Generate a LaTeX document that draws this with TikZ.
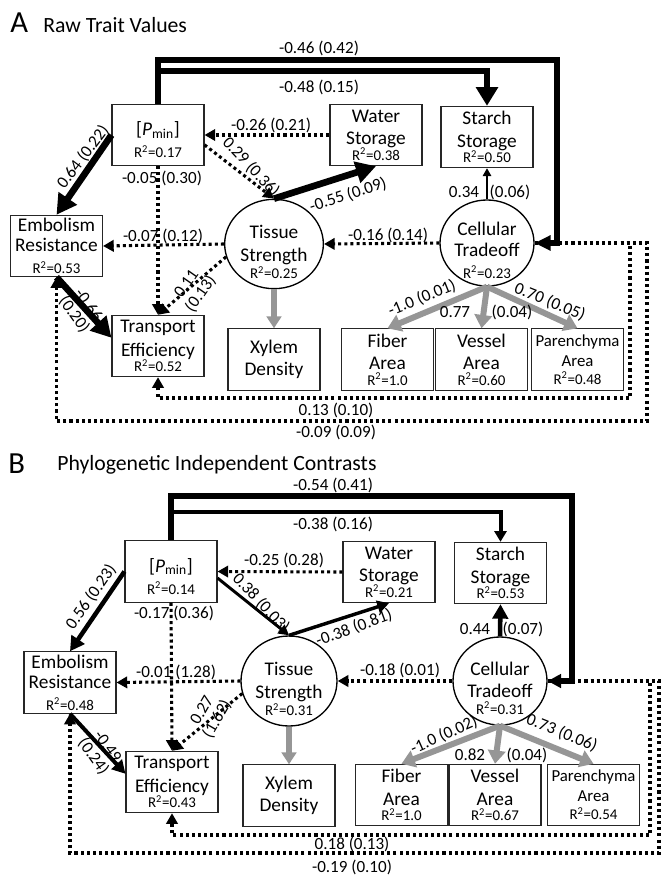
\documentclass[tikz,border=0pt]{standalone}
\usepackage{fontspec}
\setmainfont{Carlito}
\usetikzlibrary{arrows.meta, shapes.geometric}

\definecolor{loadgray}{RGB}{150,150,150}
\newcommand{\rsq}[1]{{\fontsize{11.2}{12}\selectfont R\textsuperscript{2}=#1}}

\tikzset{
  obsbox/.style={draw=black!85, line width=0.8pt, rectangle, minimum width=69pt, minimum height=46pt, inner sep=0pt, text width=66pt, align=center, font=\fontsize{14.5}{17}\selectfont},
  latent/.style={draw, ellipse, line width=1pt, minimum width=72pt, minimum height=66pt, inner sep=0pt},
  lattext/.style={text width=70pt, align=center, inner sep=0pt, font=\fontsize{14.5}{17}\selectfont},
  coef/.style={line width=#1, -{Triangle[length=2pt 2.6, width=2pt 2.8]}},
  nonsig/.style={line width=2.3pt, dash pattern=on 2.3pt off 2.3pt, -{Triangle[length=8pt,width=8.5pt]}},
  loading/.style={draw=loadgray, line width=4pt, -{Triangle[length=9pt,width=11pt]}},
  estlabel/.style={font=\fontsize{12.8}{13}\selectfont, inner sep=0.75pt, align=center},
}

\begin{document}
\begin{tikzpicture}[x=0.75pt,y=0.75pt,yscale=-1,xscale=1]
\useasboundingbox (0,0) rectangle (663,880);

%%%%%%%%%%%%%%%% Panel A
% Text Node
\node[anchor=base west, inner sep=0pt, font=\fontsize{23}{23}\selectfont] (panA) at (10,33) {A};
% Text Node
\node[anchor=base west, inner sep=0pt, font=\fontsize{16.3}{18}\selectfont] (titA) at (43,33) {Raw Trait Values};

%Shape: Rectangle
\node[obsbox] (pminA) at (158,135) {\rule{0pt}{17.5pt}[\textit{P}\textsubscript{min}]\\[-0.5pt]\rsq{0.17}};
\node[obsbox] (waterA) at (376,135) {Water\\Storage\\[-5.7pt]\rsq{0.38}};
\node[obsbox] (starchA) at (487,137) {Starch\\Storage\\[-5.7pt]\rsq{0.50}};
\node[obsbox] (embA) at (56.5,246) {Embolism\\[-2pt]Resistance\\[-0.5pt]\rsq{0.53}};
\node[obsbox] (transA) at (158,346) {Transport\\[1pt]Efficiency\\[-5.7pt]\rsq{0.52}};
\node[obsbox] (xylA) at (274,359.5) {Xylem\\Density};
\node[obsbox] (fibA) at (387.5,359.5) {Fiber\\Area\\[-5.7pt]\rsq{1.0}};
\node[obsbox] (vesA) at (481.5,359.5) {Vessel\\Area\\[-5.7pt]\rsq{0.60}};
\node[obsbox, font=\fontsize{12.6}{15}\selectfont] (parA) at (577.5,359.5) {Parenchyma\\Area\\[-1.5pt]\rsq{0.48}};

%Shape: Ellipse
\node[latent, minimum width=74pt, minimum height=67pt] (tisA) at (274,244) {};
\node[lattext] (tisAt) at (274,252) {Tissue\\Strength\\[-4.3pt]\rsq{0.25}};
\node[latent, minimum width=70.5pt, minimum height=64.5pt] (cellA) at (487,243) {};
\node[lattext] (cellAt) at (487,250) {Cellular\\[-0.7pt]Tradeoff\\[-1pt]\rsq{0.23}};

%Straight Lines
\draw[nonsig] (cellA.east) -| (630,398) -| (transA.south);
\draw[nonsig] (cellA.east) -| (647,421) -| (embA.south);
\draw[coef=4pt, -{Triangle[length=12pt,width=11pt]}] (pminA.north) |- (557,60) |- (cellA.east);
\draw[coef=4pt, -{Triangle[length=14pt,width=16pt]}] (pminA.north) |- (starchA.north |- 0,71) -- (starchA.north);
\draw[coef=5pt] (pminA.west) -- (embA.north);
\draw[nonsig] (waterA.west) -- (pminA.east);
\draw[nonsig] (pminA.-12) -- (tisA.north);
\draw[coef=5pt] (tisA.north) -- (waterA.south);
\draw[nonsig] (tisA.west) -- (embA.east);
\draw[nonsig] (tisA.195) -- (transA.north);
\draw[nonsig] (pminA.south) -- (transA.north);
\draw[coef=5pt] (embA.south) -- (transA.170);
\draw[loading] (tisA.south) -- (xylA.north);
\draw[nonsig] (cellA.west) -- (tisA.east);
\draw[coef=1.5pt] (cellA.north) -- (starchA.south);
\draw[loading, line width=4.5pt, -{Triangle[length=10pt,width=13pt]}] (cellA.south) -- (fibA.north);
\draw[loading, line width=4.5pt, -{Triangle[length=10pt,width=13pt]}] (cellA.south) -- (vesA.north);
\draw[loading, line width=4.5pt, -{Triangle[length=10pt,width=13pt]}] (cellA.south) -- (parA.north);

% Text Node
\node[estlabel] (lA1) at (319,48) {-0.46 (0.42)};
\node[estlabel] (lA2) at (319,87) {-0.48 (0.15)};
\node[estlabel, rotate=53] (lA3) at (83,157) {0.64 (0.22)};
\node[estlabel] (lA4) at (271,125) {-0.26 (0.21)};
\node[estlabel, rotate=-47] (lA5) at (251,167) {0.29 (0.36)};
\node[estlabel, rotate=18] (lA6) at (348,195) {-0.55 (0.09)};
\node[estlabel] (lA7) at (162,178) {-0.05 (0.30)};
\node[estlabel] (lA8) at (163,236) {-0.07 (0.12)};
\node[estlabel, rotate=55] (lA9) at (194,289) {0.11\\(0.13)};
\node[estlabel, rotate=-55] (lA10) at (81,310) {-0.66\\(0.20)};
\node[estlabel] (lA11) at (388,235) {-0.16 (0.14)};
\node[estlabel] (lA12) at (464,192) {0.34};
\node[estlabel] (lA13) at (510,192) {(0.06)};
\node[estlabel, rotate=22] (lA14) at (422,298) {-1.0 (0.01)};
\node[estlabel] (lA15) at (455,312) {0.77};
\node[estlabel] (lA16) at (512,312) {(0.04)};
\node[estlabel, rotate=-22] (lA17) at (550,302) {0.70 (0.05)};
\node[estlabel] (lA18) at (336,410) {0.13 (0.10)};
\node[estlabel] (lA19) at (336,432) {-0.09 (0.09)};

%%%%%%%%%%%%%%%% Panel B
% Text Node
\node[anchor=base west, inner sep=0pt, font=\fontsize{23}{23}\selectfont] (panB) at (8,473) {B};
% Text Node
\node[anchor=base west, inner sep=0pt, font=\fontsize{16.3}{18}\selectfont] (titB) at (57,470) {Phylogenetic Independent Contrasts};

%Shape: Rectangle
\node[obsbox] (pminB) at (171,571.5) {\rule{0pt}{17.5pt}[\textit{P}\textsubscript{min}]\\[-0.5pt]\rsq{0.14}};
\node[obsbox] (waterB) at (389,572) {Water\\Storage\\[-5.7pt]\rsq{0.21}};
\node[obsbox] (starchB) at (500.5,573) {Starch\\Storage\\[-5.7pt]\rsq{0.53}};
\node[obsbox] (embB) at (70,682.5) {Embolism\\[-2pt]Resistance\\[-0.5pt]\rsq{0.48}};
\node[obsbox] (transB) at (172,782) {Transport\\[1pt]Efficiency\\[-5.7pt]\rsq{0.43}};
\node[obsbox] (xylB) at (289,795.5) {Xylem\\Density};
\node[obsbox] (fibB) at (401.5,795) {Fiber\\Area\\[-5.7pt]\rsq{1.0}};
\node[obsbox] (vesB) at (495,795) {Vessel\\Area\\[-5.7pt]\rsq{0.67}};
\node[obsbox, font=\fontsize{12.6}{15}\selectfont] (parB) at (593.5,795) {Parenchyma\\Area\\[-1.5pt]\rsq{0.54}};

%Shape: Ellipse
\node[latent, minimum height=67.5pt] (tisB) at (289,681) {};
\node[lattext] (tisBt) at (289,689) {Tissue\\[0.5pt]Strength\\[-4pt]\rsq{0.31}};
\node[latent, minimum width=70.5pt] (cellB) at (500,681) {};
\node[lattext] (cellBt) at (500,688) {Cellular\\Tradeoff\\[-4.8pt]\rsq{0.31}};

%Straight Lines
\draw[nonsig] (cellB.east) -| (650,835) -| (transB.south);
\draw[nonsig] (cellB.east) -| (659,853) -| (embB.south);
\draw[coef=4pt, -{Triangle[length=10pt,width=10pt]}] (pminB.north) |- (572,496) |- (cellB.east);
\draw[coef=3pt, -{Triangle[length=8pt,width=9pt]}] (pminB.north) |- (starchB.north |- 0,512) -- (starchB.north);
\draw[coef=3.4pt] (pminB.west) -- (embB.north);
\draw[nonsig] (waterB.west) -- (pminB.east);
\draw[coef=2.2pt] (pminB.-8) -- (tisB.north);
\draw[coef=2.6pt] (tisB.north) -- (waterB.south);
\draw[nonsig] (tisB.west) -- (embB.east);
\draw[nonsig] (tisB.195) -- (transB.north);
\draw[nonsig] (pminB.south) -- (transB.north);
\draw[coef=3pt] (embB.south) -- (transB.170);
\draw[loading] (tisB.south) -- (xylB.north);
\draw[nonsig] (cellB.west) -- (tisB.east);
\draw[coef=3.4pt] (cellB.north) -- (starchB.south);
\draw[loading, line width=4.5pt, -{Triangle[length=10pt,width=13pt]}] (cellB.south) -- (fibB.north);
\draw[loading, line width=4.5pt, -{Triangle[length=10pt,width=13pt]}] (cellB.south) -- (vesB.north);
\draw[loading, line width=4.5pt, -{Triangle[length=10pt,width=13pt]}] (cellB.south) -- (parB.north);

% Text Node
\node[estlabel] (lB1) at (333,485) {-0.54 (0.41)};
\node[estlabel] (lB2) at (333,524) {-0.38 (0.16)};
\node[estlabel, rotate=55] (lB3) at (91,597) {0.56 (0.23)};
\node[estlabel] (lB4) at (284,560) {-0.25 (0.28)};
\node[estlabel, rotate=-47] (lB5) at (261,603) {0.38 (0.03)};
\node[estlabel, rotate=20] (lB6) at (354,628) {-0.38 (0.81)};
\node[estlabel] (lB7) at (174,613) {-0.17 (0.36)};
\node[estlabel] (lB8) at (176,672) {-0.01 (1.28)};
\node[estlabel, rotate=60] (lB9) at (210,715) {0.27\\(1.62)};
\node[estlabel, rotate=-55] (lB10) at (100,752) {-0.49\\(0.24)};
\node[estlabel] (lB11) at (400,670) {-0.18 (0.01)};
\node[estlabel] (lB12) at (475,629) {0.44};
\node[estlabel] (lB13) at (523,629) {(0.07)};
\node[estlabel, rotate=24] (lB14) at (444,735) {-1.0 (0.02)};
\node[estlabel] (lB15) at (470,755) {0.82};
\node[estlabel] (lB16) at (527,755) {(0.04)};
\node[estlabel, rotate=-22] (lB17) at (562,733) {0.73 (0.06)};
\node[estlabel] (lB18) at (352,844) {0.18 (0.13)};
\node[estlabel] (lB19) at (352,867) {-0.19 (0.10)};

\end{tikzpicture}
\end{document}
